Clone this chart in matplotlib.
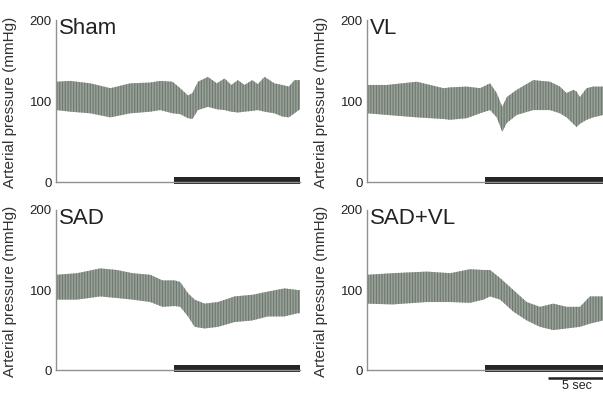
import matplotlib
matplotlib.use('Agg')
import matplotlib.pyplot as plt

plt.rcParams['font.family'] = ['Liberation Sans', 'DejaVu Sans']
plt.rcParams['hatch.linewidth'] = 0.8

# time (s), upper and lower envelope of arterial pressure (mmHg)
sham_t = [0.0, 1.3, 3.1, 4.9, 6.7, 8.5, 9.4, 10.5, 11.2, 11.9, 12.3, 12.8, 13.7, 14.5,
          15.2, 15.8, 16.4, 17.0, 17.7, 18.2, 18.8, 19.7, 20.4, 21.0, 21.5, 22.0]
sham_hi = [124, 125, 122, 116, 122, 123, 125, 124, 116, 107, 110, 124, 130, 122,
           128, 120, 126, 120, 126, 121, 130, 122, 120, 118, 126, 126]
sham_lo = [89, 87, 85, 80, 85, 87, 89, 85, 84, 79, 78, 89, 93, 90,
           89, 87, 86, 87, 88, 89, 87, 85, 81, 80, 85, 90]

vl_t = [0.0, 1.8, 4.5, 6.9, 7.5, 9.0, 10.2, 11.1, 11.7, 12.2, 12.6, 13.5,
        15.0, 16.5, 17.4, 18.0, 18.6, 18.9, 19.2, 19.8, 20.4, 21.3, 22.0]
vl_hi = [120, 120, 124, 116, 117, 118, 116, 122, 110, 93, 105, 114,
         126, 124, 118, 110, 114, 112, 105, 116, 118, 118, 118]
vl_lo = [85, 83, 80, 78, 77, 79, 85, 89, 80, 62, 73, 83,
         89, 89, 85, 80, 72, 68, 72, 77, 80, 83, 83]

sad_t = [0.0, 1.9, 4.0, 5.5, 6.9, 8.5, 9.6, 10.7, 11.2, 11.9, 12.5, 13.4,
         14.6, 16.1, 17.7, 19.1, 20.6, 21.8, 22.0]
sad_hi = [119, 121, 127, 125, 121, 119, 112, 112, 110, 96, 88, 83,
          85, 92, 94, 98, 102, 100, 100]
sad_lo = [88, 88, 92, 90, 88, 85, 79, 80, 79, 67, 54, 52,
          54, 60, 62, 67, 67, 71, 71]

sadvl_t = [0.0, 2.3, 5.4, 7.5, 9.3, 10.5, 11.1, 12.0, 13.2, 14.4, 15.6, 16.8,
           18.0, 19.2, 20.1, 21.3, 22.0]
sadvl_hi = [119, 121, 123, 121, 126, 125, 125, 115, 100, 85, 79, 83,
            79, 79, 92, 92, 92]
sadvl_lo = [83, 82, 85, 85, 84, 88, 92, 88, 73, 62, 54, 50,
            52, 54, 58, 62, 64]

titles = ['Sham', 'VL', 'SAD', 'SAD+VL']
traces = [(sham_t, sham_hi, sham_lo), (vl_t, vl_hi, vl_lo),
          (sad_t, sad_hi, sad_lo), (sadvl_t, sadvl_hi, sadvl_lo)]
stim_on = 10.6
t_end = 22.0
yticks = [0, 100, 200]

fig = plt.figure(figsize=(6.03, 3.93), dpi=100)
positions = [[0.0929, 0.520, 0.4046, 0.439],
             [0.6086, 0.520, 0.4046, 0.439],
             [0.0929, 0.042, 0.4046, 0.434],
             [0.6086, 0.042, 0.4046, 0.434]]

axes = []
for pos, title, (t, hi, lo) in zip(positions, titles, traces):
    ax = fig.add_axes(pos)
    ax.fill_between(t, lo, hi, facecolor='#98a198', edgecolor='#6f786f',
                    hatch='||||||', linewidth=0)
    ax.broken_barh([(stim_on, t_end - stim_on)], (-2, 8), facecolors='#262626')
    ax.set_xlim(0, 22)
    ax.set_ylim(-8, 205)
    for s in ['top', 'right']:
        ax.spines[s].set_visible(False)
    ax.spines['left'].set_bounds(0, 200)
    ax.spines['bottom'].set_position(('data', 0))
    for s in ['left', 'bottom']:
        ax.spines[s].set_color('#909090')
        ax.spines[s].set_linewidth(1.0)
    ax.set_xticks([])
    ax.set_yticks(yticks)
    ax.tick_params(axis='y', length=0, pad=3, labelsize=9.5, labelcolor='#222222')
    ax.set_ylabel('Arterial pressure (mmHg)', fontsize=11, color='#333333')
    ax.yaxis.set_label_coords(-0.16, 0.5)
    ax.text(0.3, 203, title, fontsize=16, va='top', ha='left', color='#222222')
    axes.append(ax)

# 5 sec scale bar
ax = axes[3]
ax.plot([16.3, 21.3], [-10, -10], color='#222222', linewidth=1.8, clip_on=False,
        solid_capstyle='butt')
ax.text(18.9, -27, '5 sec', fontsize=9, ha='center', va='bottom', color='#222222',
        clip_on=False)

fig.savefig('out.png', dpi=100)
